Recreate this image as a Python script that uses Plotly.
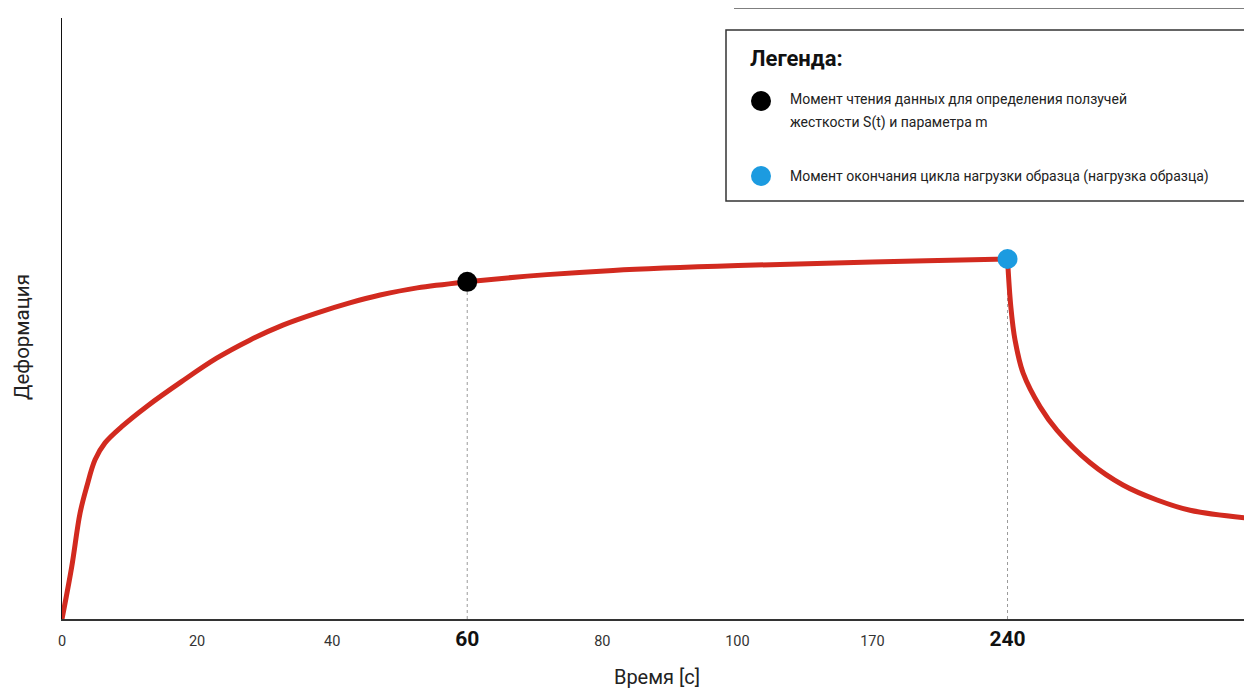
import numpy as np
import plotly.graph_objects as go

# ---------------- data ----------------
tick_values = [0, 20, 40, 60, 80, 100, 170, 240]
tick_labels = ["0", "20", "40", "60", "80", "100", "170", "240"]
bold_ticks = [60, 240]

# loading phase: time [s], deformation (arbitrary units)
load_time = [0, 1.44, 2.67, 3.66, 4.89, 6.37, 8.84, 12.7, 17.7, 22.9, 27.8, 32.7,
             37.7, 42.6, 47.1, 52.6, 60, 71.8, 81.6, 100.3, 146, 198, 240]
load_def = [0, 8.7, 17.6, 22.0, 26.5, 29.3, 32.0, 35.5, 39.5, 43.4, 46.4, 48.9,
            50.9, 52.6, 53.9, 55.1, 56.1, 57.3, 58.0, 58.8, 59.2, 59.6, 59.9]

# unloading (recovery) phase
unload_time = [240, 241.7, 243.9, 248.1, 256.9, 265.7, 282.8, 299.8, 317.5, 334.6, 364.1]
unload_def = [59.9, 52.0, 46.4, 40.9, 35.3, 31.4, 26.0, 22.3, 19.8, 18.1, 16.8]

read_time, read_def = 60, 56.1      # data reading moment (black)
end_time, end_def = 240, 59.9       # end of loading (blue)

legend_title = "Легенда:"
legend_items = ["Момент чтения данных для определения ползучей<br>жесткости S(t) и параметра m",
                "Момент окончания цикла нагрузки образца (нагрузка образца)"]
x_title = "Время [с]"
y_title = "Деформация"

# ---------------- styling ----------------
OFF = 8                      # page body margin of the html page
W, H = 1252 - OFF, 691 - OFF
ML, MR, MT, MB = 54, 0, 10, 72
PW, PH = W - ML - MR, H - MT - MB
FONT = "Roboto, Arial, sans-serif"
RED = "#d22a1f"
BLUE = "#1c9be0"


def to_axis(t):
    """Ordinal time scale: the ticks are equally spaced on the axis."""
    t = np.asarray(t, dtype=float)
    idx = np.arange(len(tick_values), dtype=float)
    out = np.interp(t, tick_values, idx)
    last_step = tick_values[-1] - tick_values[-2]
    beyond = t > tick_values[-1]
    out[beyond] = idx[-1] + (t[beyond] - tick_values[-1]) / last_step
    return out


XMAX = 8.81


def px(x, y):
    """page pixel -> paper coordinates"""
    return (x - OFF - ML) / PW, (H - MB - (y - OFF)) / PH


fig = go.Figure()

# dotted guide lines
for t, d in [(read_time, read_def), (end_time, end_def)]:
    fig.add_trace(go.Scatter(x=to_axis([t, t]), y=[0, d], mode="lines",
                             line=dict(color="#9a9a9a", width=1, dash="dot"),
                             showlegend=False, hoverinfo="skip"))

fig.add_trace(go.Scatter(x=to_axis(load_time), y=load_def, mode="lines",
                         line=dict(color=RED, width=5, shape="spline", smoothing=1.0),
                         showlegend=False))
fig.add_trace(go.Scatter(x=to_axis(unload_time), y=unload_def, mode="lines",
                         line=dict(color=RED, width=5, shape="spline", smoothing=1.0),
                         showlegend=False))

fig.add_trace(go.Scatter(x=to_axis([read_time]), y=[read_def], mode="markers",
                         marker=dict(color="black", size=20), showlegend=False))
fig.add_trace(go.Scatter(x=to_axis([end_time]), y=[end_def], mode="markers",
                         marker=dict(color=BLUE, size=20), showlegend=False))

ticktext = []
for v, lab in zip(tick_values, tick_labels):
    if v in bold_ticks:
        ticktext.append(f"<span style='font-size:21px;fill:#111'><b>{lab}</b></span>")
    else:
        ticktext.append(lab)

fig.update_xaxes(range=[0, XMAX], tickvals=to_axis(tick_values), ticktext=ticktext,
                 showgrid=False, zeroline=False, showline=True, linecolor="#333",
                 linewidth=1.5, ticks="", ticklabelstandoff=8,
                 tickfont=dict(family=FONT, size=14.5, color="#333"),
                 title=dict(text=x_title, font=dict(family=FONT, size=20, color="#222"),
                            standoff=20))
fig.update_yaxes(range=[0, 100], showgrid=False, zeroline=False, showline=True,
                 linecolor="#111", linewidth=1, showticklabels=False, ticks="")

shapes = []
# top rule
x0, y0 = px(734, 8)
x1, _ = px(1252, 8)
shapes.append(dict(type="line", xref="paper", yref="paper", x0=x0, x1=x1, y0=y0, y1=y0,
                   line=dict(color="#555", width=1.5)))
# legend box
bx0, by0 = px(726, 30)
bx1, by1 = px(1262, 201)
shapes.append(dict(type="rect", xref="paper", yref="paper", x0=bx0, x1=bx1, y0=by1, y1=by0,
                   line=dict(color="#333", width=1.5), fillcolor="white", layer="above"))
for cy, col in [(101, "black"), (176, BLUE)]:
    cx0, cy0 = px(751, cy - 10)
    cx1, cy1 = px(771, cy + 10)
    shapes.append(dict(type="circle", xref="paper", yref="paper", x0=cx0, x1=cx1,
                       y0=cy1, y1=cy0, fillcolor=col, line=dict(color=col, width=0),
                       layer="above"))

annotations = []
ax, ay = px(748, 58)
annotations.append(dict(text=f"<b>{legend_title}</b>", xref="paper", yref="paper", x=ax, y=ay,
                        xanchor="left", yanchor="middle", showarrow=False,
                        font=dict(family=FONT, size=22, color="#111")))
legend_lines = legend_items[0].split("<br>") + [legend_items[1]]
for cy, txt in zip([99, 123, 176], legend_lines):
    ax, ay = px(788, cy)
    annotations.append(dict(text=txt, xref="paper", yref="paper", x=ax, y=ay,
                            xanchor="left", yanchor="middle", align="left", showarrow=False,
                            font=dict(family=FONT, size=14, color="#222")))
ax, ay = px(22, 337)
annotations.append(dict(text=y_title, xref="paper", yref="paper", x=ax, y=ay,
                        textangle=-90, showarrow=False, xanchor="center", yanchor="middle",
                        font=dict(family=FONT, size=20.5, color="#222")))

fig.update_layout(width=W, height=H, margin=dict(l=ML, r=MR, t=MT, b=MB),
                  paper_bgcolor="white", plot_bgcolor="white",
                  shapes=shapes, annotations=annotations, showlegend=False)

fig.write_html("out.html")
